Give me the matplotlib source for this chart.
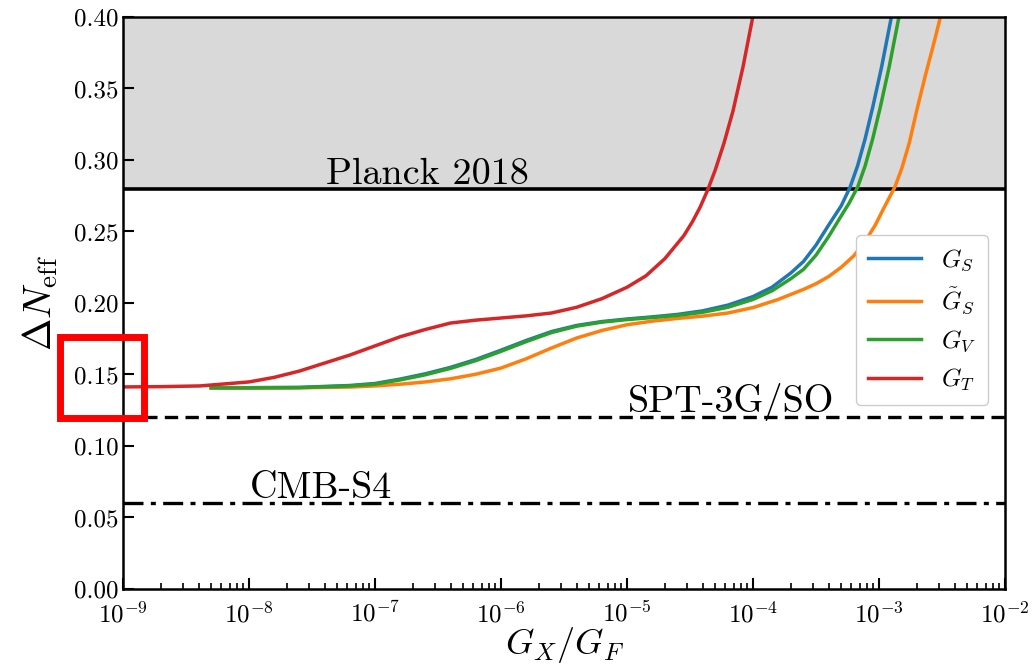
import numpy as np
import matplotlib
matplotlib.use("Agg")
import matplotlib.pyplot as plt
from matplotlib.patches import Rectangle
from matplotlib.ticker import FormatStrFormatter, LogLocator

plt.rcParams['font.family'] = 'cmr10'
plt.rcParams['mathtext.fontset'] = 'cm'
plt.rcParams['axes.unicode_minus'] = False
plt.rcParams['axes.formatter.use_mathtext'] = True

# curves: log10(G_X/G_F) and Delta N_eff
logx_T = [-9.0, -8.7, -8.39, -8.0, -7.8, -7.6, -7.4, -7.2, -7.0, -6.8, -6.6, -6.4, -6.2,
          -6.0, -5.8, -5.6, -5.4, -5.2, -5.0, -4.85, -4.7, -4.55, -4.48, -4.42, -4.36,
          -4.30, -4.23, -4.16, -4.08, -4.0]
dn_T = [0.1413, 0.1415, 0.142, 0.1448, 0.148, 0.1524, 0.158, 0.1636, 0.170, 0.1764, 0.1815,
        0.186, 0.188, 0.1895, 0.191, 0.193, 0.197, 0.203, 0.211, 0.219, 0.231, 0.247, 0.257,
        0.267, 0.279, 0.293, 0.312, 0.334, 0.365, 0.401]

logx_S = [-8.3, -8.0, -7.6, -7.2, -7.0, -6.8, -6.6, -6.4, -6.2, -6.0, -5.8, -5.6, -5.4, -5.2,
          -5.0, -4.8, -4.6, -4.4, -4.2, -4.0, -3.85, -3.7, -3.6, -3.5, -3.4, -3.3, -3.23,
          -3.17, -3.11, -3.05, -2.98, -2.90]
dn_S = [0.1408, 0.1408, 0.141, 0.1423, 0.1437, 0.1468, 0.1505, 0.155, 0.1605, 0.167, 0.1738,
        0.180, 0.1843, 0.187, 0.1888, 0.1903, 0.192, 0.1945, 0.1985, 0.2045, 0.211, 0.221,
        0.229, 0.2405, 0.2545, 0.268, 0.281, 0.296, 0.315, 0.337, 0.365, 0.401]

logx_St = [-8.3, -8.0, -7.6, -7.2, -7.0, -6.8, -6.6, -6.4, -6.2, -6.0, -5.8, -5.6, -5.4, -5.2,
           -5.0, -4.8, -4.6, -4.4, -4.2, -4.0, -3.8, -3.6, -3.5, -3.4, -3.3, -3.2, -3.1, -3.03,
           -2.97, -2.92, -2.875, -2.82, -2.76, -2.70, -2.63, -2.57, -2.51]
dn_St = [0.1406, 0.1406, 0.1407, 0.1412, 0.142, 0.1432, 0.1448, 0.147, 0.1502, 0.1545, 0.161,
         0.1685, 0.1755, 0.1808, 0.1848, 0.1873, 0.1892, 0.1908, 0.193, 0.1968, 0.2025,
         0.2095, 0.2135, 0.2185, 0.225, 0.233, 0.2445, 0.2545, 0.265, 0.2735, 0.281, 0.294,
         0.312, 0.335, 0.36, 0.38, 0.401]

logx_V = [-8.3, -8.0, -7.6, -7.2, -7.0, -6.8, -6.6, -6.4, -6.2, -6.0, -5.8, -5.6, -5.4, -5.2,
          -5.0, -4.8, -4.6, -4.4, -4.2, -4.0, -3.85, -3.7, -3.6, -3.5, -3.4, -3.3, -3.24,
          -3.17, -3.11, -3.05, -2.99, -2.92, -2.84]
dn_V = [0.1406, 0.1406, 0.1408, 0.142, 0.1433, 0.1462, 0.1498, 0.1543, 0.1597, 0.1662, 0.173,
        0.1793, 0.1838, 0.1866, 0.1884, 0.1898, 0.1913, 0.1935, 0.197, 0.2025, 0.2085, 0.217,
        0.2235, 0.2335, 0.2465, 0.261, 0.2695, 0.281, 0.296, 0.315, 0.337, 0.365, 0.401]

planck = 0.28
spt = 0.12
cmbs4 = 0.06

xticks = [1e-9, 1e-8, 1e-7, 1e-6, 1e-5, 1e-4, 1e-3, 1e-2]
yticks = [0.0, 0.05, 0.10, 0.15, 0.20, 0.25, 0.30, 0.35, 0.40]

fig = plt.figure(figsize=(10.32, 6.69), dpi=100)
ax = fig.add_axes([0.1192, 0.1196, 0.8547, 0.855])

ax.axhspan(planck, 0.40, color='#d9d9d9', zorder=0)
ax.axhline(planck, color='k', lw=2.6)
ax.axhline(spt, color='k', lw=2.4, ls=(0, (4, 2.2)))
ax.axhline(cmbs4, color='k', lw=2.4, ls=(0, (6, 2.2, 1.5, 2.2)))

ax.plot(10 ** np.array(logx_S), dn_S, color='tab:blue', lw=2.5, label=r'$G_S$')
ax.plot(10 ** np.array(logx_St), dn_St, color='tab:orange', lw=2.5, label=r'$\tilde{G}_S$')
ax.plot(10 ** np.array(logx_V), dn_V, color='tab:green', lw=2.5, label=r'$G_V$')
ax.plot(10 ** np.array(logx_T), dn_T, color='tab:red', lw=2.5, label=r'$G_T$')

ax.text(10 ** -7.39, 0.2835, 'Planck 2018', fontsize=27.5)
ax.text(10 ** -4.99, 0.1235, 'SPT-3G/SO', fontsize=27.5)
ax.text(10 ** -7.99, 0.0635, 'CMB-S4', fontsize=27.5)

ax.set_xscale('log')
ax.set_xlim(1e-9, 1e-2)
ax.set_ylim(0, 0.40)
ax.set_xticks(xticks)
ax.set_yticks(yticks)
ax.xaxis.set_minor_locator(LogLocator(base=10, subs=np.arange(2, 10), numticks=20))
ax.yaxis.set_major_formatter(FormatStrFormatter('%.2f'))
ax.tick_params(which='both', direction='in', top=False, right=False, labelsize=18, width=1.5)
ax.tick_params(which='major', length=8)
ax.tick_params(which='minor', length=4, width=1.2)
ax.tick_params(axis='x', pad=9)
for s in ax.spines.values():
    s.set_linewidth(1.8)

ax.set_xlabel(r'$G_X/G_F$', fontsize=26, labelpad=-2)
ax.set_ylabel(r'$\Delta N_{\rm eff}$', fontsize=28, labelpad=10)

ax.legend(loc='center right', bbox_to_anchor=(0.995, 0.47), fontsize=18, handlelength=2.1,
          borderpad=0.5, labelspacing=0.5, framealpha=1, edgecolor='#cccccc', fancybox=True)

fig.add_artist(Rectangle((0.0577, 0.3752), 0.0819, 0.1218, transform=fig.transFigure,
                         fill=False, edgecolor='#ff0000', lw=5))

fig.savefig('out.png', dpi=100)
